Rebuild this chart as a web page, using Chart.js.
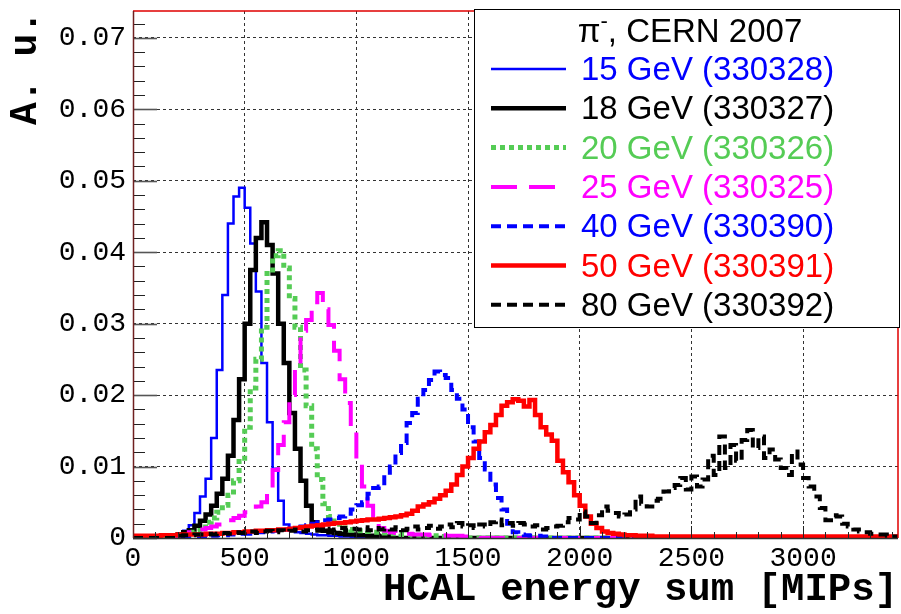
<!DOCTYPE html>
<html>
<head>
<meta charset="utf-8">
<script src="https://cdn.jsdelivr.net/npm/chart.js@4.4.0/dist/chart.umd.min.js"></script>
<style>
  html, body { margin: 0; padding: 0; background: #fff; }
</style>
</head>
<body>
<canvas id="myChart" width="901" height="614"></canvas>
<script>
// axes
const xMax = 3425;
const yMax = 0.07375;
const binWidth = 25;
const xTicks = [0, 500, 1000, 1500, 2000, 2500, 3000];
const yTicks = [0, 0.01, 0.02, 0.03, 0.04, 0.05, 0.06, 0.07];
const yTickLabels = ['0', '0.01', '0.02', '0.03', '0.04', '0.05', '0.06', '0.07'];

// legend texts
const legendTitle = ['\u03c0', '-', ', CERN 2007'];
const runNames = [
    '15 GeV (330328)', '18 GeV (330327)', '20 GeV (330326)', '25 GeV (330325)',
    '40 GeV (330390)', '50 GeV (330391)', '80 GeV (330392)'
];

// histogram contents, bins of 25 MIPs, first bin low edge in startXX
const start15 = 175;
const e15 = [0.0003, 0.0006, 0.0010, 0.0018, 0.0035, 0.0058, 0.0083, 0.0140, 0.0235, 0.0340,
    0.0440, 0.0478, 0.0490, 0.0462, 0.0412, 0.0345, 0.0245, 0.0162, 0.0097, 0.0052,
    0.0019, 0.0010, 0.0008, 0.0007, 0.0006, 0.0005, 0.0004, 0.0004, 0.0003, 0.0003,
    0.0002, 0.0002, 0.0001];

const start18 = 200;
const e18 = [0.0005, 0.0008, 0.0011, 0.0017, 0.0024, 0.0033, 0.0045, 0.0062, 0.0083, 0.0115,
    0.0165, 0.0222, 0.0300, 0.0375, 0.0420, 0.0442, 0.0410, 0.0370, 0.0300, 0.0245,
    0.0175, 0.0125, 0.0080, 0.0045, 0.0022, 0.0014, 0.0010, 0.0008, 0.0007, 0.0006,
    0.0005, 0.0005, 0.0004, 0.0004, 0.0003, 0.0003, 0.0002, 0.0002];

const start20 = 250;
const e20 = [0.0008, 0.0010, 0.0015, 0.0022, 0.0028, 0.0036, 0.0046, 0.0060, 0.0080, 0.0107,
    0.0155, 0.0210, 0.0250, 0.0295, 0.0370, 0.0395, 0.0402, 0.0378, 0.0335, 0.0295,
    0.0235, 0.0185, 0.0125, 0.0082, 0.0048, 0.0030, 0.0020, 0.0014, 0.0012, 0.0011,
    0.0010, 0.0010, 0.0009, 0.0008, 0.0008, 0.0007, 0.0006, 0.0006, 0.0005, 0.0005,
    0.0004, 0.0004, 0.0003, 0.0003, 0.0003, 0.0002, 0.0002, 0.0002];

const start25 = 250;
const e25 = [0.0008, 0.0010, 0.0012, 0.0014, 0.0016, 0.0019, 0.0022, 0.0025, 0.0028, 0.0031,
    0.0036, 0.0040, 0.0044, 0.0050, 0.0068, 0.0095, 0.0130, 0.0162, 0.0200, 0.0240,
    0.0290, 0.0305, 0.0330, 0.0343, 0.0320, 0.0298, 0.0262, 0.0222, 0.0189, 0.0150,
    0.0110, 0.0072, 0.0045, 0.0024, 0.0014, 0.0010, 0.0008, 0.0007, 0.0006, 0.0006,
    0.0005, 0.0005, 0.0005, 0.0004, 0.0004, 0.0004, 0.0003, 0.0003, 0.0003, 0.0002,
    0.0002, 0.0002];

const start40 = 350;
const e40 = [0.0003, 0.0004, 0.0004, 0.0005, 0.0005, 0.0006, 0.0006, 0.0007, 0.0008, 0.0008,
    0.0009, 0.0010, 0.0011, 0.0012, 0.0013, 0.0014, 0.0016, 0.0018, 0.0020, 0.0022,
    0.0025, 0.0026, 0.0028, 0.0030, 0.0034, 0.0040, 0.0046, 0.0050, 0.0062, 0.0070,
    0.0072, 0.0088, 0.0100, 0.0119, 0.0133, 0.0161, 0.0175, 0.0195, 0.0207, 0.0221,
    0.0233, 0.0228, 0.0224, 0.0207, 0.0195, 0.0180, 0.0155, 0.0135, 0.0112, 0.0096,
    0.0075, 0.0056, 0.0040, 0.0020, 0.0008, 0.0005, 0.0004, 0.0003, 0.0003, 0.0002];

const start50 = 0;
const e50 = [0.0003, 0.0003, 0.0003, 0.0003, 0.0003, 0.0004, 0.0004, 0.0004, 0.0005, 0.0005,
    0.0005, 0.0005, 0.0005, 0.0006, 0.0006, 0.0006, 0.0007, 0.0007, 0.0008, 0.0008,
    0.0009, 0.0009, 0.0010, 0.0010, 0.0011, 0.0011, 0.0012, 0.0012, 0.0013, 0.0014,
    0.0015, 0.0016, 0.0017, 0.0018, 0.0019, 0.0020, 0.0021, 0.0021, 0.0022, 0.0023,
    0.0024, 0.0025, 0.0026, 0.0026, 0.0027, 0.0028, 0.0029, 0.0030, 0.0032, 0.0034,
    0.0038, 0.0044, 0.0047, 0.0050, 0.0055, 0.0060, 0.0066, 0.0075, 0.0088, 0.0100,
    0.0112, 0.0125, 0.0135, 0.0148, 0.0158, 0.0172, 0.0185, 0.0190, 0.0194, 0.0192,
    0.0184, 0.0193, 0.0172, 0.0155, 0.0145, 0.0136, 0.0108, 0.0092, 0.0078, 0.0060,
    0.0045, 0.0030, 0.0020, 0.0014, 0.0009, 0.0007, 0.0006, 0.0005, 0.0004, 0.0004,
    0.0003, 0.0003, 0.0003, 0.0002, 0.0002, 0.0002, 0.0002, 0.0002, 0.0002, 0.0002,
    0.0002, 0.0002, 0.0002, 0.0002, 0.0002, 0.0002, 0.0002, 0.0002, 0.0002, 0.0002,
    0.0002, 0.0002, 0.0002, 0.0002, 0.0002, 0.0002, 0.0002, 0.0002, 0.0002, 0.0002,
    0.0002, 0.0002, 0.0002, 0.0002, 0.0002, 0.0002, 0.0002, 0.0002, 0.0002, 0.0002,
    0.0002, 0.0002, 0.0002, 0.0002, 0.0002, 0.0002, 0.0002];

const start80 = 200;
const e80 = [0.0003, 0.0004, 0.0004, 0.0005, 0.0005, 0.0006, 0.0005, 0.0006, 0.0007, 0.0006,
    0.0008, 0.0007, 0.0008, 0.0009, 0.0007, 0.0009, 0.0010, 0.0008, 0.0011, 0.0009,
    0.0010, 0.0012, 0.0009, 0.0011, 0.0012, 0.0010, 0.0013, 0.0011, 0.0012, 0.0014,
    0.0011, 0.0013, 0.0012, 0.0015, 0.0011, 0.0014, 0.0012, 0.0013, 0.0012, 0.0015,
    0.0011, 0.0013, 0.0016, 0.0012, 0.0014, 0.0017, 0.0013, 0.0016, 0.0019, 0.0015,
    0.0021, 0.0016, 0.0018, 0.0014, 0.0019, 0.0016, 0.0022, 0.0026, 0.0018, 0.0021,
    0.0017, 0.0021, 0.0019, 0.0016,
    0.0018, 0.0012, 0.0014, 0.0016, 0.0017, 0.0022, 0.0028, 0.0026, 0.0037, 0.0030,
    0.0021, 0.0032, 0.0044, 0.0038, 0.0035, 0.0030, 0.0033, 0.0040, 0.0058, 0.0048,
    0.0044, 0.0052, 0.0055, 0.0065, 0.0070, 0.0074, 0.0084, 0.0068, 0.0086, 0.0072,
    0.0082, 0.0115, 0.0088, 0.0142, 0.0098, 0.0130, 0.0108, 0.0137, 0.0151, 0.0126,
    0.0142, 0.0112, 0.0124, 0.0110, 0.0098, 0.0088, 0.0121, 0.0103, 0.0084, 0.0072,
    0.0058, 0.0042, 0.0025, 0.0032, 0.0030, 0.0020, 0.0016, 0.0012, 0.0009, 0.0008,
    0.0006, 0.0005, 0.0005, 0.0003, 0.0002];

const starts = [start15, start18, start20, start25, start40, start50, start80];
const contents = [e15, e18, e20, e25, e40, e50, e80];

const styles = [
    { color: '#0000ff', width: 2.5, dash: [] },
    { color: '#000000', width: 4.5, dash: [] },
    { color: '#55cc55', width: 5, dash: [5, 4] },
    { color: '#ff00ff', width: 4, dash: [26, 12] },
    { color: '#0000ff', width: 4, dash: [10, 6] },
    { color: '#ff0000', width: 4.5, dash: [] },
    { color: '#000000', width: 4, dash: [10, 6] }
];

// histogram -> step points (low edge of every bin), empty bins at 0
function histPoints(start, vals) {
    let pts = [];
    if (start > 0) pts.push({ x: 0, y: 0 });
    vals.forEach((v, i) => pts.push({ x: start + i * binWidth, y: v }));
    let end = start + vals.length * binWidth;
    if (end < xMax) {
        pts.push({ x: end, y: 0 });
        pts.push({ x: xMax, y: 0 });
    } else {
        pts.push({ x: xMax, y: vals[vals.length - 1] });
    }
    return pts;
}

const datasets = contents.map((vals, i) => ({
    label: runNames[i],
    data: histPoints(starts[i], vals),
    borderColor: styles[i].color,
    borderWidth: styles[i].width,
    borderDash: styles[i].dash,
    stepped: true,
    pointRadius: 0,
    fill: false,
    order: contents.length - 1 - i
}));

// inside tick marks + frame, ROOT style
const frameTicks = {
    id: 'frameTicks',
    afterDatasetsDraw(chart) {
        const ctx = chart.ctx;
        const a = chart.chartArea;
        const xs = chart.scales.x, ys = chart.scales.y;
        ctx.save();
        ctx.setLineDash([]);
        // y ticks
        const yStep = yTicks[1] - yTicks[0];
        for (let k = 0; k * yStep / 5 <= yMax; k++) {
            const v = k * yStep / 5;
            const py = Math.round(ys.getPixelForValue(v)) + 0.5;
            const major = k % 5 === 0;
            ctx.strokeStyle = major ? '#555' : '#222';
            ctx.lineWidth = major ? 1.6 : 1;
            ctx.beginPath();
            ctx.moveTo(a.left, py);
            ctx.lineTo(a.left + (major ? 24 : 12), py);
            ctx.stroke();
        }
        // x ticks
        const xStep = xTicks[1] - xTicks[0];
        for (let k = 0; k * xStep / 5 <= xMax; k++) {
            const v = k * xStep / 5;
            const px = Math.round(xs.getPixelForValue(v)) + 0.5;
            const major = k % 5 === 0;
            ctx.strokeStyle = '#222';
            ctx.lineWidth = 1;
            ctx.beginPath();
            ctx.moveTo(px, a.bottom);
            ctx.lineTo(px, a.bottom - (major ? 12 : 6));
            ctx.stroke();
        }
        // frame
        ctx.lineWidth = 1.5;
        ctx.strokeStyle = '#e00000';
        ctx.beginPath();
        ctx.moveTo(a.left, a.top);
        ctx.lineTo(a.right, a.top);
        ctx.lineTo(a.right, a.bottom);
        ctx.stroke();
        ctx.strokeStyle = '#702020';
        ctx.beginPath();
        ctx.moveTo(a.left + 0.5, a.top);
        ctx.lineTo(a.left + 0.5, a.bottom);
        ctx.stroke();
        ctx.strokeStyle = '#333';
        ctx.beginPath();
        ctx.moveTo(a.left, a.bottom + 0.5);
        ctx.lineTo(a.right, a.bottom + 0.5);
        ctx.stroke();
        ctx.restore();
    }
};

// legend box in the upper right corner
const rootLegend = {
    id: 'rootLegend',
    afterDraw(chart) {
        const ctx = chart.ctx;
        const a = chart.chartArea;
        const boxW = 425, boxH = 318;
        const bx = a.right + 1 - boxW, by = a.top - 2;
        ctx.save();
        ctx.fillStyle = '#fff';
        ctx.fillRect(bx, by, boxW, boxH);
        ctx.strokeStyle = '#000';
        ctx.lineWidth = 1;
        ctx.setLineDash([]);
        ctx.strokeRect(bx + 0.5, by + 0.5, boxW, boxH);

        // title with superscript minus
        const big = '33px "Liberation Sans", Arial, sans-serif';
        const small = '22px "Liberation Sans", Arial, sans-serif';
        ctx.textBaseline = 'alphabetic';
        ctx.textAlign = 'left';
        ctx.fillStyle = '#000';
        ctx.font = big;
        const w0 = ctx.measureText(legendTitle[0]).width;
        const w2 = ctx.measureText(legendTitle[2]).width;
        ctx.font = small;
        const w1 = ctx.measureText(legendTitle[1]).width;
        let tx = bx + 216 - (w0 + w1 + w2) / 2;
        const ty = by + 33;
        ctx.font = big;
        ctx.fillText(legendTitle[0], tx, ty);
        ctx.font = small;
        ctx.fillText(legendTitle[1], tx + w0, ty - 14);
        ctx.font = big;
        ctx.fillText(legendTitle[2], tx + w0 + w1, ty);

        // entries
        chart.data.datasets.forEach((ds, i) => {
            const base = by + 71 + i * 39.3;
            const ly = base - 11;
            ctx.strokeStyle = ds.borderColor;
            ctx.lineWidth = ds.borderWidth;
            ctx.setLineDash(ds.borderDash);
            ctx.beginPath();
            ctx.moveTo(bx + 17, ly);
            ctx.lineTo(bx + 92, ly);
            ctx.stroke();
            ctx.setLineDash([]);
            ctx.fillStyle = ds.borderColor;
            ctx.font = big;
            ctx.fillText(ds.label, bx + 107, base);
        });
        ctx.restore();
    }
};

const monoFont = '"Liberation Mono", "DejaVu Sans Mono", monospace';

const ctx = document.getElementById('myChart').getContext('2d');
new Chart(ctx, {
    type: 'line',
    data: { datasets: datasets },
    plugins: [frameTicks, rootLegend],
    options: {
        responsive: false,
        animation: false,
        devicePixelRatio: 1,
        layout: { padding: { top: 11, right: 3, left: 0, bottom: 0 } },
        plugins: {
            legend: { display: false },
            tooltip: { enabled: false }
        },
        scales: {
            x: {
                type: 'linear',
                min: 0,
                max: xMax,
                afterFit: s => {
                    s.height = 76;
                    s.paddingLeft = 0; s.paddingRight = 0;
                },
                afterBuildTicks: s => { s.ticks = xTicks.map(v => ({ value: v })); },
                grid: { color: '#333', lineWidth: 1, drawTicks: false },
                border: { display: false, dash: [3, 3] },
                ticks: {
                    autoSkip: false,
                    maxRotation: 0,
                    padding: 4,
                    color: '#000',
                    font: { family: monoFont, size: 28 },
                    callback: v => String(v)
                },
                title: {
                    display: true,
                    text: 'HCAL energy sum [MIPs]',
                    align: 'end',
                    color: '#000',
                    font: { family: monoFont, size: 39, weight: 'bold', lineHeight: 1 },
                    padding: { top: 0, bottom: 4 }
                }
            },
            y: {
                min: 0,
                max: yMax,
                afterFit: s => {
                    s.width = 133;
                    s.paddingTop = 0; s.paddingBottom = 0;
                },
                afterBuildTicks: s => { s.ticks = yTicks.map(v => ({ value: v })); },
                grid: { color: '#333', lineWidth: 1, drawTicks: false },
                border: { display: false, dash: [3, 3] },
                ticks: {
                    padding: 7,
                    color: '#000',
                    font: { family: monoFont, size: 28 },
                    callback: (v, i) => yTickLabels[i]
                },
                title: {
                    display: true,
                    text: 'A. u.',
                    align: 'end',
                    color: '#000',
                    font: { family: monoFont, size: 38, weight: 'bold', lineHeight: 1 },
                    padding: { top: 7, bottom: 0 }
                }
            }
        }
    }
});
</script>
</body>
</html>
